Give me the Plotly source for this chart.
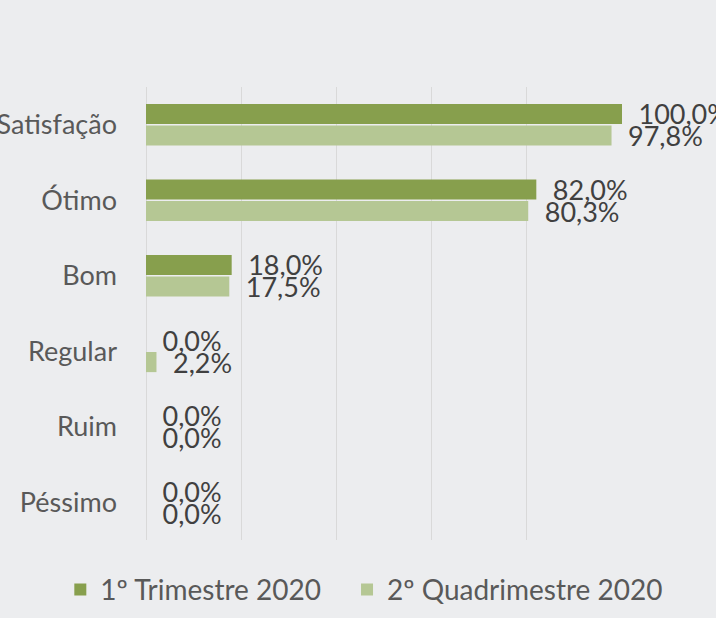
import plotly.graph_objects as go

categories = ["Satisfação", "Ótimo", "Bom", "Regular", "Ruim", "Péssimo"]
series_names = ["1º Trimestre 2020", "2º Quadrimestre 2020"]
values_t1 = [100.0, 82.0, 18.0, 0.0, 0.0, 0.0]
values_q2 = [97.8, 80.3, 17.5, 2.2, 0.0, 0.0]
colors = ["#879f4d", "#b5c794"]

def fmt(v):
    return "\u2002" + f"{v:.1f}%".replace(".", ",")

fig = go.Figure()
for i, (name, vals, col) in enumerate(zip(series_names, [values_t1, values_q2], colors)):
    fig.add_trace(go.Bar(
        y=categories, x=vals,
        name=name + ("\u2003" if i == 0 else ""),
        orientation="h",
        marker=dict(color=col, line=dict(width=0)),
        text=[fmt(v) for v in vals], textposition="outside",
        textfont=dict(family="Lato", size=27, color="#404040"),
        constraintext="none", cliponaxis=False,
    ))

fig.update_layout(
    width=716, height=618,
    paper_bgcolor="#ecedef", plot_bgcolor="#ecedef",
    margin=dict(l=146, r=94, t=87, b=78, autoexpand=False),
    barmode="group", bargap=0.427, bargroupgap=0.07,
    font=dict(family="Lato", size=27, color="#595959"),
    showlegend=True,
    legend=dict(orientation="h", x=-0.18, xref="paper", xanchor="left",
                y=-0.11, yref="paper", yanchor="middle",
                font=dict(family="Lato", size=28, color="#595959"),
                itemwidth=30, tracegroupgap=0, bgcolor="rgba(0,0,0,0)"),
    xaxis=dict(range=[0, 100], dtick=20, showticklabels=False,
               showgrid=True, gridcolor="#d9d9d9", gridwidth=1.3,
               zeroline=True, zerolinecolor="#d9d9d9", zerolinewidth=1.3,
               showline=False, fixedrange=True, automargin=False),
    yaxis=dict(autorange="reversed", showgrid=False, zeroline=False,
               ticks="", ticklabelstandoff=28, automargin=False,
               tickfont=dict(family="Lato", size=27, color="#595959")),
)

fig.write_html("out.html", config={"displayModeBar": False},
               post_script="document.body.style.margin='0';document.body.style.overflow='hidden';")
